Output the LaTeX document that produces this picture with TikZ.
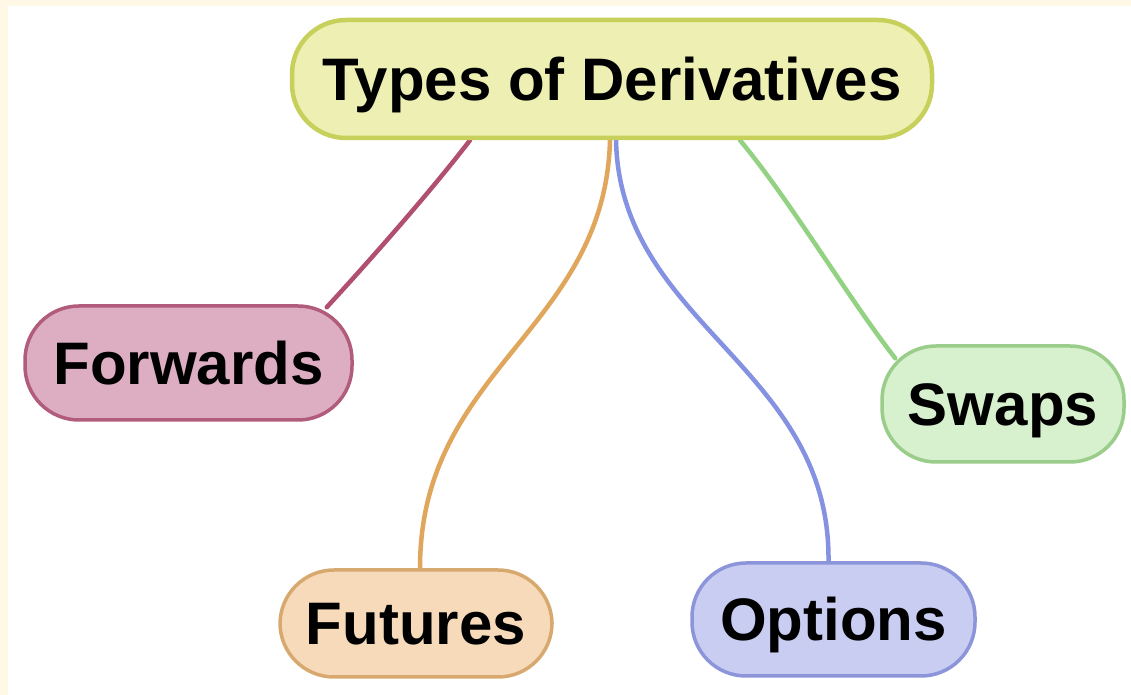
\documentclass[tikz,border=0pt]{standalone}
\usepackage{fontspec}
\setmainfont{Liberation Sans}
\usetikzlibrary{calc}
\pgfdeclarelayer{back}
\pgfdeclarelayer{bg}
\pgfsetlayers{back,bg,main}
\definecolor{cream}{HTML}{FFF8E6}
\definecolor{topfill}{HTML}{EDF0B2}
\definecolor{topdraw}{HTML}{C6D05A}
\definecolor{fwfill}{HTML}{DDAEC2}
\definecolor{fwdraw}{HTML}{B25C7C}
\definecolor{fwline}{HTML}{B0506E}
\definecolor{futfill}{HTML}{F6DABA}
\definecolor{futdraw}{HTML}{D8A96E}
\definecolor{futline}{HTML}{E0A65C}
\definecolor{optfill}{HTML}{C9CDF2}
\definecolor{optdraw}{HTML}{8C94DA}
\definecolor{optline}{HTML}{8592E2}
\definecolor{swfill}{HTML}{D7F0CD}
\definecolor{swdraw}{HTML}{9ACC8A}
\definecolor{swline}{HTML}{92D282}
\tikzset{
  topic/.style={rectangle, rounded corners=54pt, line width=3.5pt, inner sep=0pt,
    text height=43pt, text depth=0pt, align=center,
    font=\fontsize{60}{72}\selectfont\bfseries, text=black},
  link/.style={line width=4.5pt, line cap=round}
}
\begin{document}
\begin{tikzpicture}[x=1pt,y=1pt]
\useasboundingbox (0,0) rectangle (1131,695);
\begin{pgfonlayer}{back}
\fill[cream] (0,0) rectangle (1131,695);
\fill[white] (8,0) rectangle (1131,689);
\end{pgfonlayer}

\node[topic, fill=topfill, draw=topdraw, line width=4.5pt, minimum width=640pt, minimum height=118pt] (top) at (612,616) {Types of Derivatives};
\node[topic, fill=fwfill, draw=fwdraw, minimum width=327pt, minimum height=114pt] (fw) at (188.5,332) {Forwards};
\node[topic, fill=futfill, draw=futdraw, minimum width=272pt, minimum height=107pt] (fut) at (416,71.5) {Futures};
\node[topic, fill=optfill, draw=optdraw, minimum width=283pt, minimum height=113pt] (opt) at (833.5,75.5) {Options};
\node[topic, fill=swfill, draw=swdraw, minimum width=242pt, minimum height=116pt] (sw) at (1003,291) {Swaps};

\begin{pgfonlayer}{bg}
\draw[link, fwline] ($(top.south)+(-142,0)$) .. controls ($(top.south)+(-182,-52)$) and ($(fw.north east)+(18,46)$) .. ($(fw.north east)+(-27,-3)$);
\draw[link, futline] ($(top.south)+(-2,0)$) .. controls ($(top.south)+(-7,-190)$) and ($(fut.north)+(4,200)$) .. ($(fut.north)+(4,0)$);
\draw[link, optline] ($(top.south)+(4,0)$) .. controls ($(top.south)+(8,-185)$) and ($(opt.north)+(-3,195)$) .. ($(opt.north)+(-5,0)$);
\draw[link, swline] ($(top.south)+(128,0)$) .. controls ($(top.south)+(178,-60)$) and ($(sw.north west)+(-32,46)$) .. ($(sw.north west)+(15,-14)$);
\end{pgfonlayer}
\end{tikzpicture}
\end{document}
